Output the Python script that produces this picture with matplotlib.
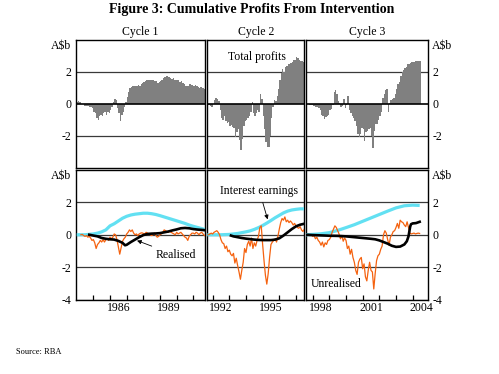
import numpy as np
import matplotlib
matplotlib.use("Agg")
import matplotlib.pyplot as plt

plt.rcParams['font.family'] = ['Liberation Serif', 'DejaVu Serif']
plt.rcParams['axes.unicode_minus'] = False

# ── Data (A$b) ────────────────────────────────────────────
# total profits, monthly bars
c1_total_start = 1984.0
c1_total = [
    0.1, 0.15, 0.1, 0.0, -0.05, -0.15, -0.15, -0.15, -0.15, -0.2, -0.2, -0.3,
    -0.5, -0.6, -0.9, -1.0, -0.8, -0.7, -0.8, -0.6, -0.5, -0.7, -0.5, -0.6,
    -0.4, -0.2, 0.1, 0.3, 0.2, -0.3, -0.6, -1.1, -0.7, -0.5, -0.2, 0.1,
    0.4, 0.7, 1.0, 1.05, 1.1, 1.1, 1.1, 1.1, 1.15, 1.1, 1.2, 1.3,
    1.35, 1.4, 1.5, 1.5, 1.5, 1.45, 1.5, 1.45, 1.4, 1.4, 1.3, 1.35,
    1.4, 1.5, 1.6, 1.65, 1.75, 1.7, 1.65, 1.6, 1.55, 1.6, 1.5, 1.45,
    1.5, 1.45, 1.35, 1.4, 1.3, 1.25, 1.1, 1.1, 1.1, 1.2, 1.15, 1.15,
    1.1, 1.15, 1.1, 1.05, 1.0, 1.05, 1.0, 0.95, 0.9]
c2_total_start = 1991.75
c2_total = [
    -0.1, -0.15, -0.2,
    -0.05, 0.25, 0.35, 0.3, 0.15, -0.4, -0.9, -1.0, -0.8, -1.1, -1.2, -1.15,
    -1.4, -1.35, -1.45, -1.5, -2.1, -1.8, -1.6, -2.3, -2.9, -2.2, -1.4, -1.1,
    -1.0, -0.9, -0.8, -0.5, 0.1, -0.6, -0.8, -0.6, -0.4, -0.5, 0.6, 0.3,
    -0.8, -1.6, -2.4, -2.7, -2.7, -2.0, -0.9, -0.2, 0.25, 0.15, 0.5, 0.9,
    1.5, 1.9, 2.15, 1.95, 2.3, 2.35, 2.45, 2.5, 2.55, 2.6, 2.7, 2.75,
    2.9, 2.85, 2.75, 2.65, 2.65, 2.6, 2.55]
c3_total_start = 1997 + 8 / 12
c3_total = [
    -0.05, -0.1, -0.1, -0.1,
    -0.15, -0.15, -0.2, -0.2, -0.3, -0.4, -0.7, -0.75, -0.95, -0.85, -0.8, -0.7,
    -0.4, -0.35, -0.1, 0.7, 0.85, 0.6, 0.15, 0.05, -0.2, -0.15, 0.3, -0.25,
    -0.1, 0.45, -0.4, -0.6, -0.75, -0.9, -1.1, -1.4, -1.9, -2.1, -1.9, -1.5,
    -1.6, -2.35, -1.8, -1.7, -1.6, -1.5, -2.0, -2.8, -1.7, -1.3, -1.3, -1.0,
    -0.8, -0.5, 0.35, 0.6, 0.85, 0.9, -0.5, 0.05, 0.25, 0.3, 0.35, 0.6,
    0.9, 1.2, 1.35, 1.75, 2.0, 2.1, 2.25, 2.3, 2.45, 2.5, 2.55, 2.6,
    2.6, 2.62, 2.65, 2.65, 2.65, 2.65]

# unrealised, monthly
c1_unr_start = 1984.25
c1_unr = [
    0.0, 0.02, -0.05, -0.1, -0.05, -0.15, -0.1, -0.2, -0.35,
    -0.3, -0.5, -0.85, -0.6, -0.5, -0.35, -0.45, -0.3, -0.45, -0.3, -0.25, -0.35,
    -0.15, -0.25, -0.15, 0.05, 0.0, -0.3, -0.75, -1.2, -0.8, -0.4, -0.25, -0.15,
    0.05, 0.15, 0.3, 0.2, 0.3, 0.1, 0.0, 0.05, -0.05, 0.05, 0.1, 0.12,
    0.08, 0.05, 0.15, 0.1, 0.05, 0.0, -0.05, 0.02, 0.1, -0.05, -0.15, -0.1,
    0.0, 0.05, 0.15, 0.3, 0.25, 0.2, 0.15, 0.22, 0.15, 0.1, 0.05, 0.0,
    0.15, 0.05, 0.1, 0.15, 0.05, -0.05, -0.15, -0.2, -0.35, -0.1, 0.0, 0.1,
    0.1, 0.05, 0.15, 0.1, 0.0, 0.1, 0.15, 0.05, -0.05]
c2_unr_start = 1991.75
c2_unr = [
    0.0, 0.05, 0.1,
    0.05, 0.15, 0.2, 0.25, 0.15, 0.0, -0.3, -0.5, -0.55, -0.85, -0.7, -1.05,
    -0.95, -1.2, -1.3, -1.15, -1.75, -1.45, -1.9, -2.3, -2.75, -2.2, -1.7, -0.85,
    -1.1, -0.6, -0.4, -0.7, -0.2, -0.85, -0.5, -0.7, -0.35, -0.1, 0.45, 0.55,
    -0.6, -1.6, -2.5, -3.05, -2.4, -1.4, -0.6, -0.45, -0.35, -0.25, -0.45, -0.1,
    0.35, 0.75, 1.0, 0.9, 1.1, 0.8, 0.9, 0.75, 0.85, 0.75, 0.6, 0.7,
    0.55, 0.45, 0.4, 0.5, 0.3, 0.2, 0.35, 0.15]
c3_unr_start = 1997 + 8 / 12
c3_unr = [
    0.0, 0.02, -0.05, 0.0,
    -0.1, -0.05, -0.25, -0.15, -0.35, -0.45, -0.65, -0.45, -0.75, -0.5, -0.6, -0.35,
    -0.3, -0.15, 0.15, 0.35, 0.55, 0.45, 0.25, 0.05, -0.25, -0.05, -0.4, -0.2,
    -0.35, -0.85, -0.7, -1.2, -0.9, -1.4, -1.7, -2.2, -2.45, -1.7, -1.5, -1.4,
    -2.1, -1.8, -2.6, -2.85, -2.2, -1.7, -2.2, -2.3, -3.35, -2.4, -1.6, -1.3,
    -1.2, -0.9, -0.7, 0.0, 0.25, 0.1, -0.3, -0.65, -0.15, 0.0, 0.2, 0.25,
    0.45, 0.7, 0.4, 0.9, 0.8, 0.75, 0.6, 0.5, 0.8, 0.45, 0.1, 0.05,
    0.08, 0.1, 0.05, 0.08, 0.1, 0.08]

# interest earnings
c1_int_t = [1984.0, 1984.5, 1985.0, 1985.25, 1985.5, 1985.75, 1986.0, 1986.25, 1986.5,
            1986.75, 1987.0, 1987.25, 1987.5, 1987.75, 1988.0, 1988.25, 1988.5, 1988.75,
            1989.0, 1989.25, 1989.5, 1989.75, 1990.0, 1990.25, 1990.5, 1990.75, 1991.0,
            1991.25, 1991.5, 1991.7]
c1_int = [0.0, 0.0, 0.05, 0.1, 0.18, 0.3, 0.55, 0.68, 0.85,
          1.02, 1.14, 1.22, 1.27, 1.3, 1.33, 1.33, 1.3, 1.25,
          1.18, 1.1, 1.02, 0.94, 0.86, 0.78, 0.7, 0.6, 0.52,
          0.45, 0.38, 0.32]
c2_int_t = [1991.68, 1992.0, 1992.5, 1993.0, 1993.25, 1993.5, 1993.75, 1994.0, 1994.25,
            1994.5, 1994.75, 1995.0, 1995.25, 1995.5, 1995.75, 1996.0, 1996.25, 1996.5,
            1996.75, 1997.0, 1997.25, 1997.5]
c2_int = [0.0, 0.0, 0.0, 0.02, 0.05, 0.08, 0.13, 0.18, 0.24,
          0.33, 0.44, 0.57, 0.72, 0.88, 1.05, 1.2, 1.35, 1.46,
          1.53, 1.57, 1.6, 1.6]
c3_int_t = [1997.6, 1998.0, 1998.5, 1999.0, 1999.5, 2000.0, 2000.5, 2001.0, 2001.5,
            2002.0, 2002.5, 2003.0, 2003.5, 2004.0, 2004.42]
c3_int = [0.0, 0.02, 0.06, 0.13, 0.27, 0.44, 0.62, 0.83, 1.04,
          1.25, 1.46, 1.66, 1.79, 1.83, 1.81]

# realised
c1_real_t = [1984.75, 1985.0, 1985.25, 1985.5, 1985.75, 1986.0, 1986.25, 1986.5, 1986.75,
             1986.9, 1987.0, 1987.25, 1987.5, 1987.75, 1988.0, 1988.25, 1988.5, 1988.75,
             1989.0, 1989.25, 1989.5, 1989.75, 1990.0, 1990.25, 1990.5, 1990.75, 1991.0,
             1991.25, 1991.5, 1991.7]
c1_real = [0.0, -0.05, -0.1, -0.2, -0.25, -0.28, -0.3, -0.38, -0.5,
           -0.65, -0.62, -0.45, -0.3, -0.15, -0.02, 0.05, 0.07, 0.08,
           0.1, 0.15, 0.2, 0.27, 0.33, 0.4, 0.42, 0.4, 0.35,
           0.32, 0.3, 0.28]
c2_real_t = [1993.1, 1993.25, 1993.5, 1993.75, 1994.0, 1994.25, 1994.5, 1994.75, 1995.0,
             1995.25, 1995.5, 1995.75, 1996.0, 1996.25, 1996.5, 1996.75, 1997.0, 1997.25,
             1997.5]
c2_real = [-0.05, -0.1, -0.15, -0.2, -0.24, -0.27, -0.3, -0.32, -0.33,
           -0.33, -0.33, -0.3, -0.22, -0.05, 0.15, 0.35, 0.52, 0.62,
           0.68]
c3_real_t = [1997.6, 1998.0, 1998.5, 1999.0, 1999.5, 2000.0, 2000.5, 2001.0, 2001.5,
             2001.75, 2002.0, 2002.25, 2002.5, 2002.75, 2003.0, 2003.25, 2003.5, 2003.65,
             2003.75, 2003.85, 2003.9, 2004.0, 2004.2, 2004.42]
c3_real = [0.0, -0.02, -0.04, -0.06, -0.07, -0.1, -0.15, -0.2, -0.25,
           -0.28, -0.35, -0.45, -0.55, -0.68, -0.75, -0.73, -0.6, -0.4,
           -0.1, 0.5, 0.65, 0.7, 0.72, 0.8]

cycle_names = ["Cycle 1", "Cycle 2", "Cycle 3"]
cycle_xlim = [(1983.94, 1991.70), (1991.68, 1997.50), (1997.60, 2004.92)]
cycle_ticks = [list(range(1985, 1992)), list(range(1992, 1998)), list(range(1998, 2005))]
cycle_labels = [[1986, 1989], [1992, 1995], [1998, 2001, 2004]]

totals = [(c1_total_start, c1_total), (c2_total_start, c2_total), (c3_total_start, c3_total)]
unreal = [(c1_unr_start, c1_unr), (c2_unr_start, c2_unr), (c3_unr_start, c3_unr)]
interest = [(c1_int_t, c1_int), (c2_int_t, c2_int), (c3_int_t, c3_int)]
realised = [(c1_real_t, c1_real), (c2_real_t, c2_real), (c3_real_t, c3_real)]

# ── Layout (pixels of a 499x374 canvas) ───────────────────
W, H = 499, 374
cols = [(75.7, 205.0), (207.3, 304.3), (306.0, 428.0)]
rows = [(39.5, 167.7), (170.0, 299.5)]

GRID = "#3a3a3a"
BAR = "#808080"
CYAN = "#62e0f2"
ORANGE = "#f5620f"
TICK_BLUE = "#4aa3dc"
TICK_PURPLE = "#8a3d9e"
FS = 8.5

fig = plt.figure(figsize=(W / 100, H / 100), dpi=100)


def month_times(start, n):
    return start + np.arange(n) / 12.0


def style_axes(ax, col, row):
    ax.set_xlim(*cycle_xlim[col])
    ax.set_ylim(-4, 4)
    for s in ax.spines.values():
        s.set_linewidth(1.0)
        s.set_color("black")
    for v in (2, -2):
        ax.axhline(v, color=GRID, lw=0.9, zorder=1)
    if row == 1:
        ax.axhline(0, color=GRID, lw=0.9, zorder=1)
        ax.axhline(-4, color=GRID, lw=0.9, zorder=1)
    if row == 0:
        yt = [3.7, 2, 0, -2]
        yl = [r"A\$b", "2", "0", "-2"]
    else:
        yt = [3.7, 2, 0, -2, -4]
        yl = [r"A\$b", "2", "0", "-2", "-4"]
    ax.set_yticks(yt)
    ax.set_yticklabels(yl, fontsize=FS)
    ax.tick_params(axis="y", length=0, pad=3.0,
                   left=False, right=False,
                   labelleft=(col == 0), labelright=(col == 2))


axes = {}
for r, (ytop, ybot) in enumerate(rows):
    for c, (xl, xr) in enumerate(cols):
        ax = fig.add_axes([xl / W, 1 - ybot / H, (xr - xl) / W, (ybot - ytop) / H])
        style_axes(ax, c, r)
        axes[(r, c)] = ax

# ── top row: total profits (monthly bars, drawn as one stepped fill) ──
for c in range(3):
    ax = axes[(0, c)]
    start, vals = totals[c]
    edges = month_times(start, len(vals) + 1)
    ax.stairs(vals, edges, baseline=0, fill=True, color=BAR, lw=0, zorder=2)
    ax.axhline(0, color="black", lw=1.2, zorder=3)
    ax.set_xticks([])
    ax.set_title(cycle_names[c], fontsize=FS, pad=3)

# ── bottom row: components ───────────────────────────────
for c in range(3):
    ax = axes[(1, c)]
    ax.plot(interest[c][0], interest[c][1], color=CYAN, lw=2.3,
            solid_capstyle="butt", zorder=3)
    start, vals = unreal[c]
    ax.plot(month_times(start, len(vals)), vals, color=ORANGE, lw=0.9, zorder=4)
    ax.plot(realised[c][0], realised[c][1], color="black", lw=1.9, zorder=5)

    ax.set_xticks(cycle_ticks[c])
    ax.set_xticklabels([])
    ax.tick_params(axis="x", which="major", direction="in", length=3.5, width=0.9,
                   top=False)
    for yr, tk in zip(cycle_ticks[c], ax.xaxis.get_major_ticks()):
        tk.tick1line.set_color(TICK_PURPLE if (yr - 1987) % 3 == 0 else TICK_BLUE)
    ax.set_xticks([y + 0.5 for y in cycle_labels[c]], minor=True)
    ax.set_xticklabels([str(y) for y in cycle_labels[c]], minor=True, fontsize=FS)
    ax.tick_params(axis="x", which="minor", length=0, pad=2)

# ── annotations ──────────────────────────────────────────
axes[(0, 1)].text(1994.66, 2.89, "Total profits", fontsize=FS,
                  ha="center", va="center", zorder=6)
axes[(1, 0)].annotate("Realised", xy=(1987.62, -0.36), xytext=(1989.96, -1.27),
                      fontsize=FS, ha="center", va="center", zorder=6,
                      arrowprops=dict(arrowstyle="-|>", color="black", lw=0.6,
                                      mutation_scale=6, shrinkA=1, shrinkB=0))
axes[(1, 1)].annotate("Interest earnings", xy=(1995.3, 0.95), xytext=(1994.81, 2.69),
                      fontsize=FS, ha="center", va="center", zorder=6,
                      arrowprops=dict(arrowstyle="-|>", color="black", lw=0.6,
                                      mutation_scale=6, shrinkA=2, shrinkB=0))
axes[(1, 2)].text(1999.4, -3.06, "Unrealised", fontsize=FS,
                  ha="center", va="center", zorder=6)

fig.text(251.7 / W, 1 - 10 / H, "Figure 3: Cumulative Profits From Intervention",
         fontsize=10, fontweight="bold", ha="center", va="center")
fig.text(16 / W, 1 - 352 / H, "Source: RBA", fontsize=6, ha="left", va="center")

fig.savefig("out.png", dpi=100)
